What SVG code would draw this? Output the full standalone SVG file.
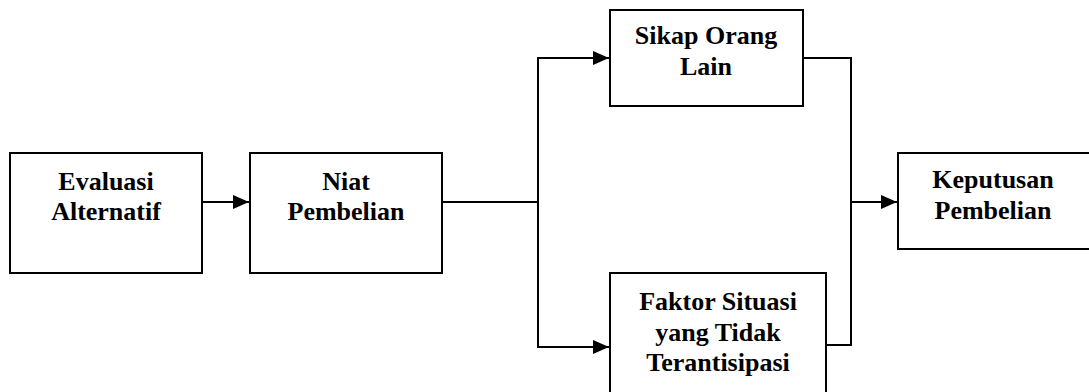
<svg xmlns="http://www.w3.org/2000/svg" width="1089" height="392" viewBox="0 0 1089 392">
<style>
.box{fill:#fff;stroke:#000;stroke-width:2}
.t{font-family:"Liberation Serif","Times New Roman",serif;font-weight:bold;font-size:26px;text-anchor:middle;fill:#000}
.c{fill:none;stroke:#000;stroke-width:2}
</style>
<defs>
<marker id="ah" markerWidth="16" markerHeight="14" refX="16" refY="7" orient="auto" markerUnits="userSpaceOnUse">
<path d="M0,0 L16,7 L0,14 Z" fill="#000"/>
</marker>
</defs>
<rect width="1089" height="392" fill="#fff"/>
<g id="connectors">
<line class="c" x1="202" y1="202" x2="249" y2="202" marker-end="url(#ah)"/>
<polyline class="c" points="442,202 538,202"/>
<polyline class="c" points="538,345 538,58 609,58" marker-end="url(#ah)"/>
<polyline class="c" points="538,200 538,347 609,347" marker-end="url(#ah)"/>
<polyline class="c" points="803,58 851,58 851,345 826,345"/>
<line class="c" x1="851" y1="202" x2="897" y2="202" marker-end="url(#ah)"/>
</g>
<g id="evaluasi">
<rect class="box" x="10" y="153" width="192" height="120"/>
<text class="t" x="106" y="190">Evaluasi</text>
<text class="t" x="106" y="220">Alternatif</text>
</g>
<g id="niat">
<rect class="box" x="250" y="153" width="192" height="120"/>
<text class="t" x="346" y="190">Niat</text>
<text class="t" x="346" y="220">Pembelian</text>
</g>
<g id="sikap">
<rect class="box" x="610" y="10" width="193" height="96"/>
<text class="t" x="706" y="44">Sikap Orang</text>
<text class="t" x="706" y="75">Lain</text>
</g>
<g id="faktor">
<rect class="box" x="610" y="273" width="216" height="130"/>
<text class="t" x="718" y="310">Faktor Situasi</text>
<text class="t" x="718" y="341">yang Tidak</text>
<text class="t" x="718" y="371">Terantisipasi</text>
</g>
<g id="keputusan">
<rect class="box" x="898" y="153" width="195" height="96"/>
<text class="t" x="993" y="188">Keputusan</text>
<text class="t" x="993" y="219">Pembelian</text>
</g>
</svg>
